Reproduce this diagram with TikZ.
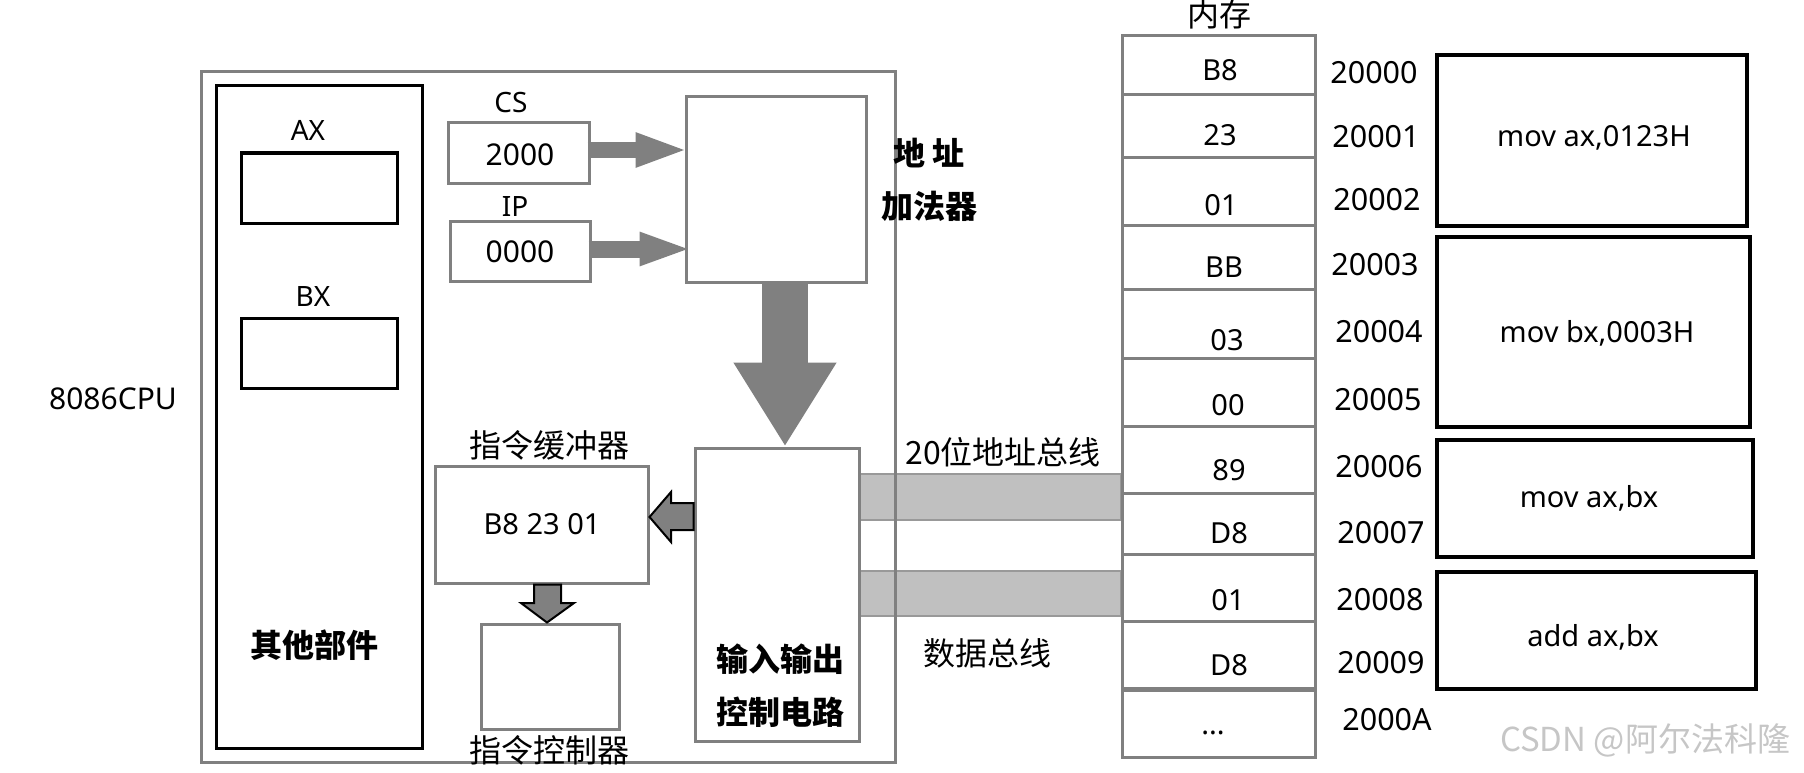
\documentclass[tikz,border=0pt]{standalone}
\usepackage{fontspec}
\setmainfont{Noto Sans}
\newfontfamily\cjk{Noto Sans CJK SC}
\usetikzlibrary{arrows.meta,fit,calc,backgrounds}
\definecolor{lg}{RGB}{128,128,128}
\definecolor{barc}{RGB}{192,192,192}
\begin{document}
\begin{tikzpicture}[x=1pt,y=-1pt,
  gbox/.style={draw=lg,line width=3pt,inner sep=0pt},
  kbox/.style={draw=black,line width=3pt,inner sep=0pt},
  ibox/.style={draw=black,line width=3.5pt,inner sep=0pt},
  txt/.style={inner sep=0pt,anchor=center},
  l28/.style={txt,font=\fontsize{28}{33}\selectfont},
  l29/.style={txt,font=\fontsize{29}{34}\selectfont},
  l30/.style={txt,font=\fontsize{30}{36}\selectfont},
  c32/.style={txt,font=\cjk\fontsize{32}{38}\selectfont},
  cb32/.style={txt,align=center,font=\cjk\bfseries\fontsize{32}{53}\selectfont},
  garrow/.style={draw=lg,line cap=butt},
  oarrow/.style={draw=black,fill=lg,line width=2pt,line join=miter},
  busbar/.style={fill=barc,draw=lg!80,line width=1.2pt}]
\useasboundingbox (0,0) rectangle (1804,773);

% CPU
\node[gbox, fit={(201,72)(895,762)}] (cpu) {};
\node[l30] (cpul) at (113,399) {8086CPU};
\node[kbox, fit={(216,86)(422,748)}] (other) {};
\node[cb32] (otherl) at (314,645) {其他部件};
\node[kbox, fit={(241,153)(397,223)}] (ax) {};
\node[l28] (axl) at (308,130) {AX};
\node[kbox, fit={(241,318)(397,388)}] (bx) {};
\node[l28] (bxl) at (313,297) {BX};

\node[gbox, fit={(448,123)(589,183)}] (cs) {};
\node[l28] (csl) at (511,103) {CS};
\node[l30] (csv) at (520,155) {2000};
\node[gbox, fit={(450,221)(590,281)}] (ip) {};
\node[l28] (ipl) at (515,207) {IP};
\node[l30] (ipv) at (520,252) {0000};

\node[gbox, fit={(686,97)(866,282)}] (adder) {};
\node[cb32] (adderl) at (929,180) {地 址\\加法器};

\node[gbox, fit={(695,448)(859,741)}] (io) {};
\node[cb32] (iol) at (780,686) {输入输出\\控制电路};

\node[gbox, fit={(435,466)(648,583)}] (buf) {};
\node[c32] (bufl) at (549,445) {指令缓冲器};
\node[l29] (bufv) at (542,524) {B8 23 01};
\node[gbox, fit={(481,624)(619,729)}] (ctrl) {};
\node[c32] (ctrll) at (549,750) {指令控制器};

% block arrows
\draw[garrow,line width=16pt,-{Triangle[width=31pt,length=53pt]}]
  ($(cs.east)+(-3,-3)$) -- ($(adder.west |- cs.east)+(4,-3)$);
\draw[garrow,line width=17pt,-{Triangle[width=30pt,length=53pt]}]
  ($(ip.east)+(-3,-2)$) -- ($(adder.west |- ip.east)+(8,-2)$);
\draw[garrow,line width=46pt,-{Triangle[width=97pt,length=84pt]}]
  (785,0 |- adder.south) -- (785,0 |- io.north);
\draw[oarrow] (io.west |- 0,503) -- (671,503) -- (671,492) -- (buf.east |- 0,517)
  -- (671,542) -- (671,530) -- (io.west |- 0,530) -- cycle;
\draw[oarrow] (534,0 |- buf.south) -- (534,603) -- (521,603) -- (547,0 |- ctrl.north)
  -- (574,603) -- (561,603) -- (561,0 |- buf.south) -- cycle;

% memory
\node[c32] (meml) at (1219,14) {内存};
\foreach \i/\ya/\yb/\tx/\ty/\v in {
  1/36/95/1220/70/B8, 2/95/157/1220/135/23, 3/157/225/1221/205/01,
  4/225/289/1224/267/BB, 5/289/358/1227/340/03, 6/358/426/1228/405/00,
  7/426/493/1229/470/89, 8/493/554/1229/533/D8, 9/554/621/1228/600/01,
  10/621/688/1229/665/D8}{
  \node[gbox, fit={(1122,\ya)(1315,\yb)}] (m\i) {};
  \node[l29] (mt\i) at (\tx,\ty) {\v};
}
\node[gbox, fit={(1122,690)(1315,757)}] (m11) {};
\node[l29] (mt11) at (1213,733) {...};
\foreach \i/\tx/\ty/\v in {
  1/1374/73/20000, 2/1376/137/20001, 3/1377/200/20002, 4/1375/265/20003,
  5/1379/332/20004, 6/1378/400/20005, 7/1379/467/20006, 8/1381/533/20007,
  9/1380/600/20008, 10/1381/663/20009, 11/1387/720/2000A}{
  \node[txt,font=\fontsize{30.5}{36}\selectfont] (a\i) at (\tx,\ty) {\v};
}

% instruction boxes
\node[ibox, fit={(1437,55)(1747,226)}] (i1) {};
\node[l29] (i1t) at (1594,138) {mov ax,0123H};
\node[ibox, fit={(1437,237)(1750,427)}] (i2) {};
\node[l29] (i2t) at (1597,333) {mov bx,0003H};
\node[ibox, fit={(1437,440)(1753,557)}] (i3) {};
\node[l29] (i3t) at (1589,498) {mov ax,bx};
\node[ibox, fit={(1437,572)(1756,689)}] (i4) {};
\node[l29] (i4t) at (1593,637) {add ax,bx};

% buses
\begin{scope}[on background layer]
\draw[busbar] (io.east |- 0,474) rectangle (m1.west |- 0,520);
\draw[busbar] (io.east |- 0,571) rectangle (m1.west |- 0,616);
\end{scope}
\node[c32] (abl) at (1003,452) {20位地址总线};
\node[c32] (dbl) at (987,653) {数据总线};

\node[txt,font=\cjk\fontsize{33}{38}\selectfont,text=gray!45] (wm) at (1645,740) {CSDN @阿尔法科隆};
\end{tikzpicture}
\end{document}
